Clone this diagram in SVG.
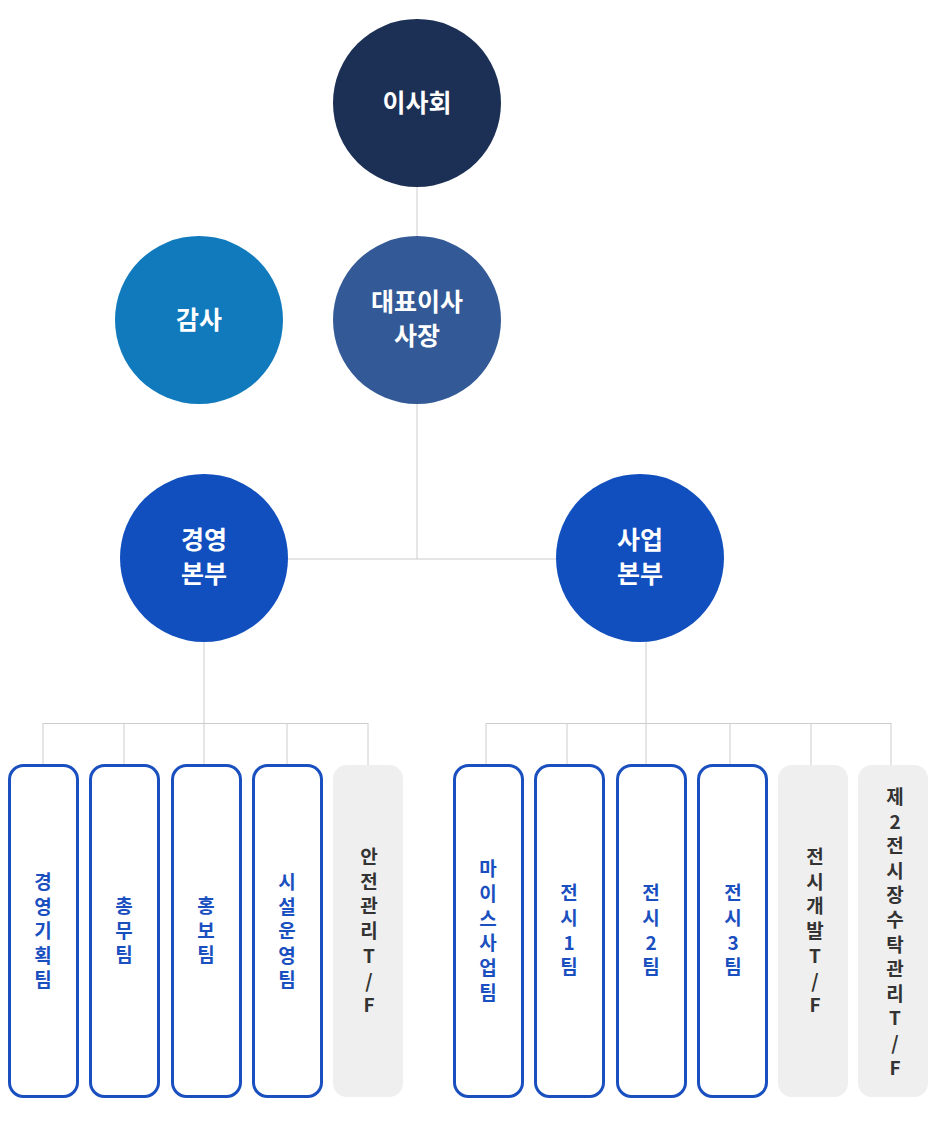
<svg xmlns="http://www.w3.org/2000/svg" width="935" height="1147" viewBox="0 0 935 1147">
<style>
.c text{font-family:"Noto Sans CJK KR","Noto Sans",sans-serif;font-weight:bold;fill:#fff;font-size:25px;text-anchor:middle}
.b{fill:#fff;stroke:#1a4fbf;stroke-width:3}
.g{fill:#efefef}
.bt{font-family:"Noto Sans CJK KR","Noto Sans",sans-serif;font-weight:bold;font-size:19px;text-anchor:middle;fill:#1a4fbf}
.gt{font-family:"Noto Sans CJK KR","Noto Sans",sans-serif;font-weight:bold;font-size:19px;text-anchor:middle;fill:#333}
#conn line{stroke:#cccccc;stroke-width:1}
</style>
<rect width="935" height="1147" fill="#fff"/>
<g id="conn">
<line x1="417" y1="187" x2="417" y2="236"/>
<line x1="417" y1="404" x2="417" y2="559"/>
<line x1="288" y1="559" x2="556" y2="559"/>
<line x1="204" y1="642" x2="204" y2="723"/>
<line x1="43" y1="723.5" x2="368" y2="723.5"/>
<line x1="43" y1="723" x2="43" y2="765"/><line x1="124" y1="723" x2="124" y2="765"/><line x1="204" y1="723" x2="204" y2="765"/><line x1="287" y1="723" x2="287" y2="765"/><line x1="368" y1="723" x2="368" y2="765"/>
<line x1="646" y1="642" x2="646" y2="723"/>
<line x1="486" y1="723.5" x2="891" y2="723.5"/>
<line x1="486" y1="723" x2="486" y2="765"/><line x1="567" y1="723" x2="567" y2="765"/><line x1="646" y1="723" x2="646" y2="765"/><line x1="730" y1="723" x2="730" y2="765"/><line x1="811" y1="723" x2="811" y2="765"/><line x1="891" y1="723" x2="891" y2="765"/>
</g>
<g id="board" class="c"><circle cx="417" cy="103" r="84" fill="#1c3055"/><text x="417" y="112">이사회</text></g>
<g id="audit" class="c"><circle cx="199" cy="320" r="84" fill="#117abd"/><text x="199" y="329">감사</text></g>
<g id="ceo" class="c"><circle cx="417" cy="320" r="84" fill="#335a96"/><text x="417" y="311">대표이사</text><text x="417" y="345">사장</text></g>
<g id="mgmt" class="c"><circle cx="204" cy="558" r="84" fill="#114fbf"/><text x="204" y="549">경영</text><text x="204" y="583">본부</text></g>
<g id="biz" class="c"><circle cx="640" cy="558" r="84" fill="#114fbf"/><text x="640" y="549">사업</text><text x="640" y="583">본부</text></g>
<g id="t1"><rect class="b" x="9.5" y="765.5" width="68" height="331" rx="14"/><text class="bt" x="43" y="889">경<tspan x="43" dy="24.5">영</tspan><tspan x="43" dy="24.5">기</tspan><tspan x="43" dy="24.5">획</tspan><tspan x="43" dy="24.5">팀</tspan></text></g>
<g id="t2"><rect class="b" x="90.5" y="765.5" width="68" height="331" rx="14"/><text class="bt" x="124" y="913">총<tspan x="124" dy="24.5">무</tspan><tspan x="124" dy="24.5">팀</tspan></text></g>
<g id="t3"><rect class="b" x="172.5" y="765.5" width="68" height="331" rx="14"/><text class="bt" x="206" y="913">홍<tspan x="206" dy="24.5">보</tspan><tspan x="206" dy="24.5">팀</tspan></text></g>
<g id="t4"><rect class="b" x="253.5" y="765.5" width="68" height="331" rx="14"/><text class="bt" x="287" y="889">시<tspan x="287" dy="24.5">설</tspan><tspan x="287" dy="24.5">운</tspan><tspan x="287" dy="24.5">영</tspan><tspan x="287" dy="24.5">팀</tspan></text></g>
<g id="t5"><rect class="g" x="333" y="765" width="70" height="332" rx="14"/><text class="gt" x="369" y="864">안<tspan x="369" dy="24.7">전</tspan><tspan x="369" dy="24.7">관</tspan><tspan x="369" dy="24.7">리</tspan><tspan x="369" dy="24.7">T</tspan><tspan x="369" dy="24.7">/</tspan><tspan x="369" dy="24.7">F</tspan></text></g>
<g id="t6"><rect class="b" x="454.5" y="765.5" width="68" height="331" rx="14"/><text class="bt" x="488" y="876">마<tspan x="488" dy="24.8">이</tspan><tspan x="488" dy="24.8">스</tspan><tspan x="488" dy="24.8">사</tspan><tspan x="488" dy="24.8">업</tspan><tspan x="488" dy="24.8">팀</tspan></text></g>
<g id="t7"><rect class="b" x="535.5" y="765.5" width="68" height="331" rx="14"/><text class="bt" x="569" y="900">전<tspan x="569" dy="24.8">시</tspan><tspan x="569" dy="24.8">1</tspan><tspan x="569" dy="24.8">팀</tspan></text></g>
<g id="t8"><rect class="b" x="617.5" y="765.5" width="68" height="331" rx="14"/><text class="bt" x="651" y="900">전<tspan x="651" dy="24.8">시</tspan><tspan x="651" dy="24.8">2</tspan><tspan x="651" dy="24.8">팀</tspan></text></g>
<g id="t9"><rect class="b" x="698.5" y="765.5" width="68" height="331" rx="14"/><text class="bt" x="733" y="900">전<tspan x="733" dy="24.8">시</tspan><tspan x="733" dy="24.8">3</tspan><tspan x="733" dy="24.8">팀</tspan></text></g>
<g id="t10"><rect class="g" x="778" y="765" width="70" height="332" rx="14"/><text class="gt" x="815" y="864">전<tspan x="815" dy="24.7">시</tspan><tspan x="815" dy="24.7">개</tspan><tspan x="815" dy="24.7">발</tspan><tspan x="815" dy="24.7">T</tspan><tspan x="815" dy="24.7">/</tspan><tspan x="815" dy="24.7">F</tspan></text></g>
<g id="t11"><rect class="g" x="858" y="765" width="70" height="332" rx="14"/><text class="gt" x="895" y="804">제<tspan x="895" dy="24.6">2</tspan><tspan x="895" dy="24.6">전</tspan><tspan x="895" dy="24.6">시</tspan><tspan x="895" dy="24.6">장</tspan><tspan x="895" dy="24.6">수</tspan><tspan x="895" dy="24.6">탁</tspan><tspan x="895" dy="24.6">관</tspan><tspan x="895" dy="24.6">리</tspan><tspan x="895" dy="24.6">T</tspan><tspan x="895" dy="24.6">/</tspan><tspan x="895" dy="24.6">F</tspan></text></g>
</svg>
